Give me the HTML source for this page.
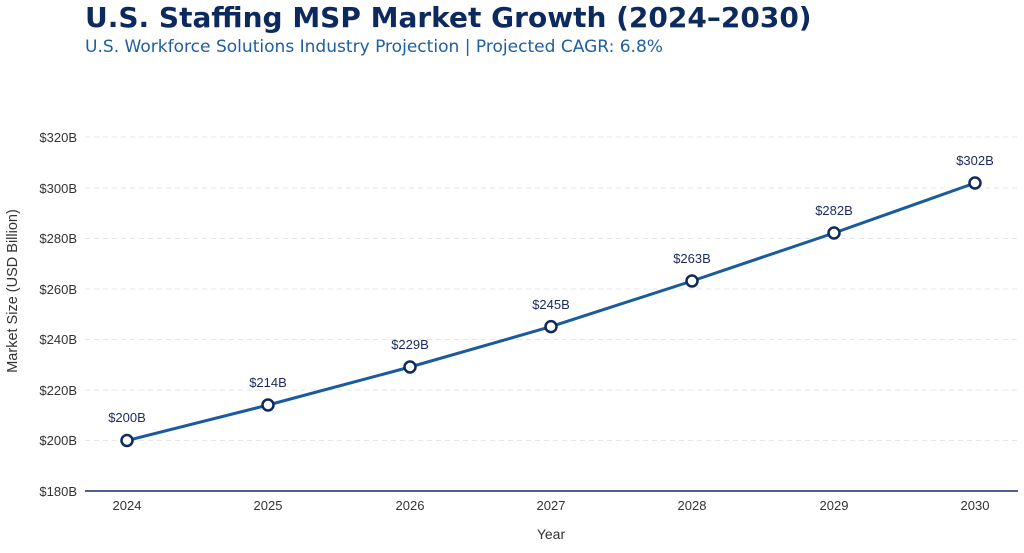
<!DOCTYPE html>
<html><head><meta charset="utf-8"><style>
body{margin:0;background:#fff;width:1024px;height:548px;overflow:hidden;font-family:"Liberation Sans","DejaVu Sans",sans-serif}
</style></head><body>
<svg width="1024" height="548" xmlns="http://www.w3.org/2000/svg" font-family="Liberation Sans, DejaVu Sans, sans-serif">
<text x="85" y="27" font-size="28" font-weight="bold" fill="#0d2a5e" font-family="DejaVu Sans, sans-serif">U.S. Staffing MSP Market Growth (2024–2030)</text>
<text x="85" y="52" font-size="17" fill="#1f5fa0" font-family="DejaVu Sans, sans-serif" textLength="578" lengthAdjust="spacingAndGlyphs">U.S. Workforce Solutions Industry Projection | Projected CAGR: 6.8%</text>
<g stroke="#e4e6ea" stroke-dasharray="5,4" stroke-width="1">
<line x1="85" x2="1018" y1="137" y2="137"/><line x1="85" x2="1018" y1="188" y2="188"/>
<line x1="85" x2="1018" y1="238.5" y2="238.5"/><line x1="85" x2="1018" y1="289" y2="289"/>
<line x1="85" x2="1018" y1="339.5" y2="339.5"/><line x1="85" x2="1018" y1="390" y2="390"/>
<line x1="85" x2="1018" y1="440.5" y2="440.5"/>
</g>
<line x1="85" x2="1018" y1="491" y2="491" stroke="#1a2a6e" stroke-width="1.5"/>
<g font-size="13" fill="#333" text-anchor="end">
<text x="77" y="142">$320B</text><text x="77" y="193">$300B</text><text x="77" y="243">$280B</text>
<text x="77" y="294">$260B</text><text x="77" y="344">$240B</text><text x="77" y="395">$220B</text>
<text x="77" y="445">$200B</text><text x="77" y="496">$180B</text>
</g>
<g font-size="13" fill="#333" text-anchor="middle">
<text x="127" y="510">2024</text><text x="268" y="510">2025</text><text x="410" y="510">2026</text>
<text x="551" y="510">2027</text><text x="692" y="510">2028</text><text x="834" y="510">2029</text><text x="975" y="510">2030</text>
</g>
<text x="551" y="539" font-size="14" fill="#333" text-anchor="middle">Year</text>
<text transform="translate(17,291) rotate(-90)" font-size="14.5" fill="#333" text-anchor="middle">Market Size (USD Billion)</text>
<polyline fill="none" stroke="#1a5a9e" stroke-width="3" points="127,440.5 268,405 410,367 551,326.6 692,281 834,233 975,183"/>
<g fill="#fff" stroke="#0d2a5e" stroke-width="2.5">
<circle cx="127" cy="440.5" r="5.5"/><circle cx="268" cy="405" r="5.5"/><circle cx="410" cy="367" r="5.5"/>
<circle cx="551" cy="326.6" r="5.5"/><circle cx="692" cy="281" r="5.5"/><circle cx="834" cy="233" r="5.5"/><circle cx="975" cy="183" r="5.5"/>
</g>
<g font-size="13" fill="#1a2a5e" text-anchor="middle">
<text x="127" y="422">$200B</text><text x="268" y="387">$214B</text><text x="410" y="349">$229B</text>
<text x="551" y="309">$245B</text><text x="692" y="263">$263B</text><text x="834" y="215">$282B</text><text x="975" y="165">$302B</text>
</g>
</svg>
</body></html>
